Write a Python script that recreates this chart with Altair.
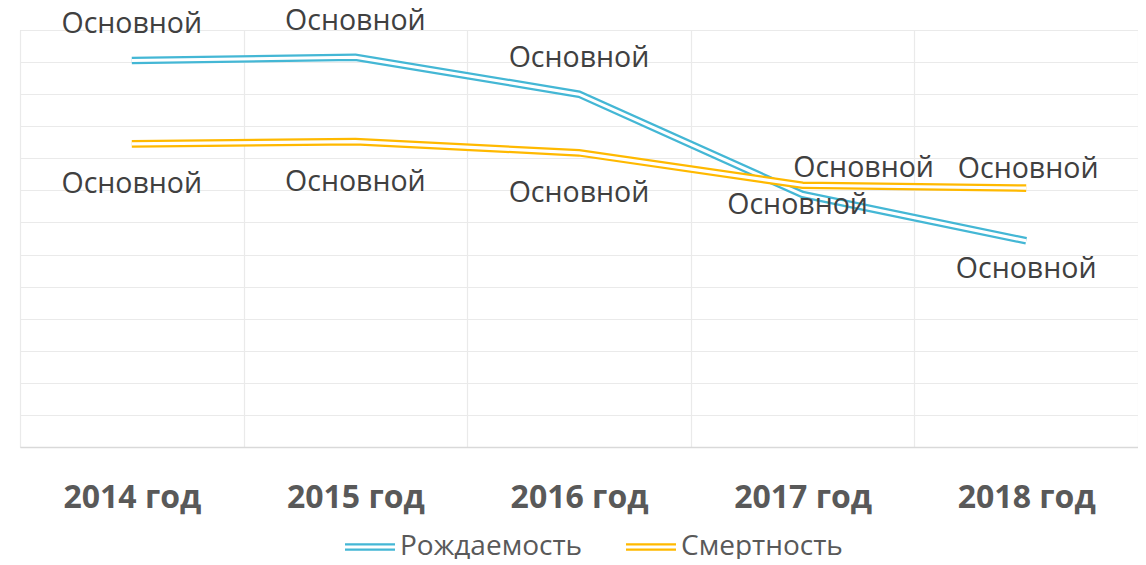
import altair as alt
import pandas as pd
import json

years = ["2014 год", "2015 год", "2016 год", "2017 год", "2018 год"]
births = [12.05, 12.15, 11.0, 7.87, 6.43]
deaths = [9.45, 9.52, 9.17, 8.16, 8.07]
series_names = ["Рождаемость", "Смертность"]
point_labels = ["Основной"] * 5

BLUE = "#44B7D5"
ORANGE = "#FFB900"

rows = []
for name, vals in zip(series_names, [births, deaths]):
    for y, v, lab in zip(years, vals, point_labels):
        rows.append({"year": y, "value": v, "series": name, "label": lab})
df = pd.DataFrame(rows)

x_enc = alt.X(
    "year:N",
    sort=years,
    scale=alt.Scale(type="band", paddingInner=0, paddingOuter=0),
    axis=alt.Axis(
        title=None, labelAngle=0, ticks=False, grid=True, tickBand="extent",
        gridColor="#EAEAEA", gridWidth=1.2, domainColor="#D9D9D9", domainWidth=1.5,
        labelFont="Open Sans", labelFontWeight="bold", labelFontSize=32,
        labelColor="#595959", labelPadding=35,
    ),
)
y_enc = alt.Y(
    "value:Q",
    scale=alt.Scale(domain=[0, 13], nice=False),
    axis=alt.Axis(
        title=None, labels=False, ticks=False, domain=False, grid=True,
        values=list(range(0, 14)), gridColor="#EAEAEA", gridWidth=1.2,
    ),
)
color_enc = alt.Color(
    "series:N",
    scale=alt.Scale(domain=series_names, range=[BLUE, ORANGE]),
    legend=alt.Legend(
        title=None, orient="none", direction="horizontal",
        legendX=336, legendY=503, padding=0, labelLimit=400,
        symbolType="M-2.5,-0.26H2.5M-2.5,0.26H2.5", symbolSize=400, symbolStrokeWidth=2.3,
        labelFont="Open Sans", labelFontSize=28, labelColor="#595959",
        columnPadding=38, labelOffset=16,
    ),
)

base = alt.Chart(df).encode(x=x_enc, y=y_enc)

def series_lines(name):
    sub = base.transform_filter(alt.datum.series == name)
    thick = sub.mark_line(strokeWidth=7.6, strokeCap="butt", strokeJoin="miter").encode(color=color_enc)
    inner = sub.mark_line(strokeWidth=3.1, color="white", strokeCap="butt", strokeJoin="miter")
    return [thick, inner]

def labels(name, yrs, dx, dy):
    expr = f"datum.series == {json.dumps(name)} && indexof({json.dumps(yrs)}, datum.year) >= 0"
    return base.transform_filter(expr).mark_text(
        font="Open Sans", fontSize=28.5, color="#404040", baseline="middle",
        align="center", dx=dx, dy=dy,
    ).encode(text="label:N")

layers = series_lines(series_names[0]) + series_lines(series_names[1]) + [
    labels(series_names[0], years[0:3], 0, -36),
    labels(series_names[0], [years[3]], -5, 10),
    labels(series_names[0], [years[4]], 0, 28),
    labels(series_names[1], years[0:3], 0, 40),
    labels(series_names[1], [years[3]], 61, -17),
    labels(series_names[1], [years[4]], 2, -19),
]

chart = alt.layer(*layers).properties(
    width=1118, height=417,
    padding={"left": 12, "top": 22, "right": 0, "bottom": 112},
    autosize="none",
).configure_view(stroke=None).configure(background="white")

chart.save("out.html", embed_options={"renderer": "svg", "actions": False})
